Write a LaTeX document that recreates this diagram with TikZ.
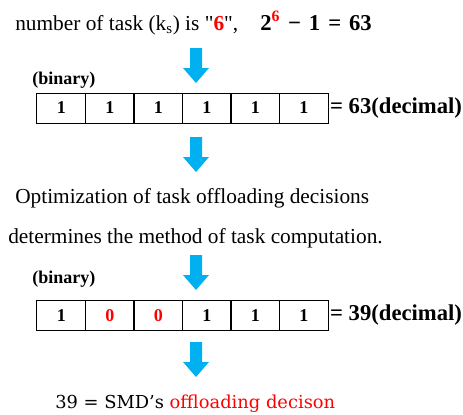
\documentclass[tikz,border=0pt]{standalone}
\usepackage{fontspec}
\setmainfont{Liberation Serif}[Ligatures=TeXOff]
\newfontfamily\eqfont{DejaVu Serif}
\definecolor{arrowblue}{HTML}{00B0F0}
\definecolor{bitred}{HTML}{FF0000}

\newcommand{\opgap}{\hspace{0.35em}}

\tikzset{
  bitcell/.style={draw, line width=0.75pt, minimum width=36.4pt, minimum height=22.5pt,
    inner sep=0pt, font=\bfseries\fontsize{13.5}{13.5}\selectfont},
  tag/.style={anchor=base west, inner sep=0pt, font=\bfseries\fontsize{13.5}{13.5}\selectfont},
  line/.style={anchor=base west, inner sep=0pt, font=\fontsize{16}{16}\selectfont},
  decimal/.style={anchor=west, inner sep=1pt, font=\bfseries\fontsize{17}{17}\selectfont},
  bluearrow/.pic={
    \fill[arrowblue] (-6,0) -- (6,0) -- (6,-20) -- (13,-20) -- (0,-35)
      -- (-13,-20) -- (-6,-20) -- cycle;
  }
}

\begin{document}
\begin{tikzpicture}[x=0.75pt, y=0.75pt]
  \useasboundingbox (0,0) rectangle (463,-414);

  % heading
  \node[line] (head) at (15,-30) {number of task (k\textsubscript{s}) is "\textcolor{bitred}{\textbf{6}}",};
  \node[line, font=\bfseries\fontsize{17}{17}\selectfont] (headeq) at (260,-30)
    {2\textsuperscript{\textcolor{bitred}{6}}\opgap−\opgap1\opgap=\opgap63};

  % arrows
  \foreach \y in {48,137,255,342}
    \pic at (196,-\y) {bluearrow};

  % first register
  \node[tag] (bin1) at (32,-84) {(binary)};
  \foreach \b [count=\i] in {1,1,1,1,1,1}
    \node[bitcell] (a\i) at ({37+48.5*(\i-0.5)},-108) {\b};
  \node[decimal] (dec1) at (a6.east) {= 63(decimal)};

  % optimisation text
  \node[line] (opt1) at (15,-203) {Optimization of task offloading decisions};
  \node[line] (opt2) at (8,-243) {determines the method of task computation.};

  % second register
  \node[tag] (bin2) at (32,-283) {(binary)};
  \foreach \b/\c [count=\i] in {1/black,0/bitred,0/bitred,1/black,1/black,1/black}
    \node[bitcell, text=\c] (b\i) at ({37+48.5*(\i-0.5)},-315.5) {\b};
  \node[decimal] (dec2) at (b6.east) {= 39(decimal)};

  % result
  \node[anchor=base west, inner sep=0pt, font=\eqfont\fontsize{13.4}{13.4}\selectfont] (res) at (55,-408)
    {39 = SMD’s \textcolor{bitred}{offloading decison}};
\end{tikzpicture}
\end{document}
